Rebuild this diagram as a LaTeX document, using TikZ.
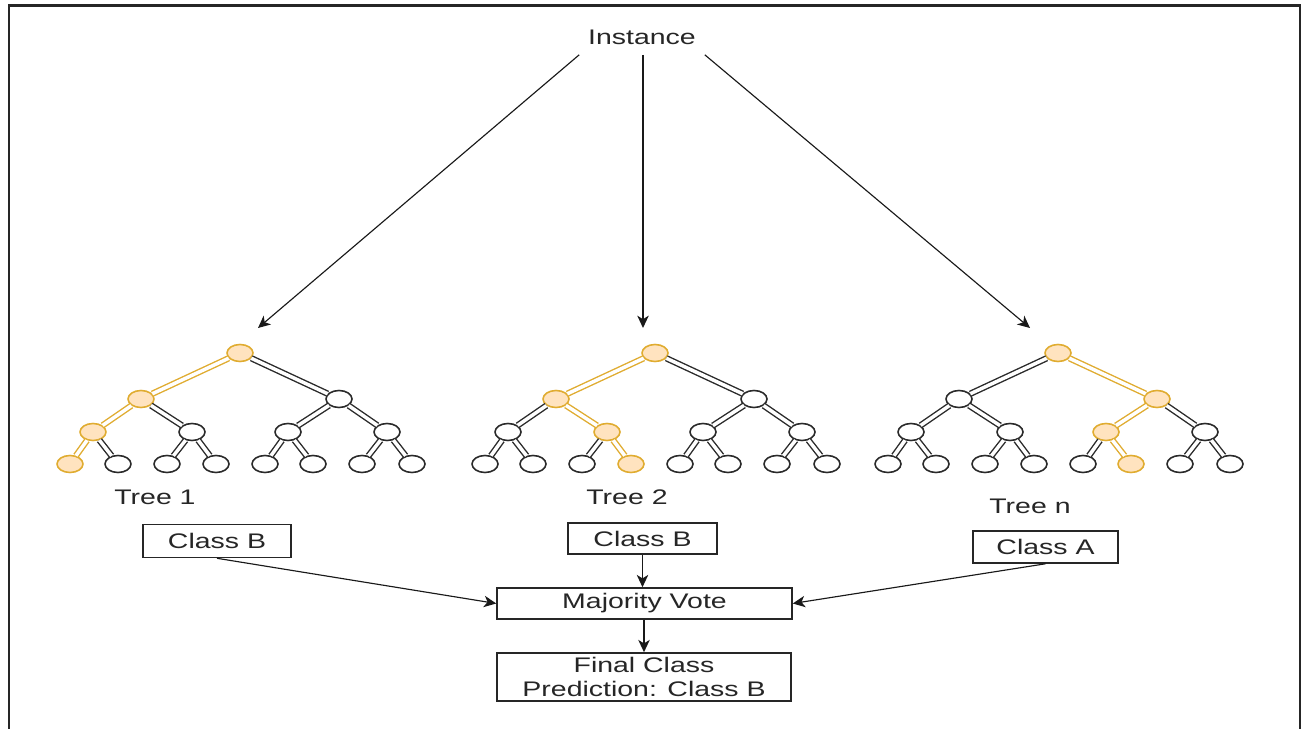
\documentclass[tikz,border=0pt]{standalone}
\usepackage{fontspec}
\setmainfont{Liberation Sans}[FakeStretch=1.35]
\usetikzlibrary{arrows.meta,shapes.geometric}
\definecolor{hlstroke}{HTML}{E0AC30}
\definecolor{hlfill}{HTML}{FFE3BF}
\definecolor{edgegray}{HTML}{2A2A2A}
\tikzset{
  plainnode/.style={ellipse,draw=edgegray,fill=white,line width=0.9pt,minimum width=0.52cm,minimum height=0.34cm,inner sep=0pt},
  hlnode/.style={plainnode,draw=hlstroke,fill=hlfill},
  plainedge/.style={draw=edgegray,double=white,double distance=2pt,line width=0.8pt},
  hledge/.style={plainedge,draw=hlstroke},
  s-r/.style={plainnode},s-a/.style={plainnode},s-b/.style={plainnode},
  s-aa/.style={plainnode},s-ab/.style={plainnode},s-ba/.style={plainnode},s-bb/.style={plainnode},
  s-aaa/.style={plainnode},s-aab/.style={plainnode},s-aba/.style={plainnode},s-abb/.style={plainnode},
  s-baa/.style={plainnode},s-bab/.style={plainnode},s-bba/.style={plainnode},s-bbb/.style={plainnode},
  e-a/.style={plainedge},e-b/.style={plainedge},
  e-aa/.style={plainedge},e-ab/.style={plainedge},e-ba/.style={plainedge},e-bb/.style={plainedge},
  e-aaa/.style={plainedge},e-aab/.style={plainedge},e-aba/.style={plainedge},e-abb/.style={plainedge},
  e-baa/.style={plainedge},e-bab/.style={plainedge},e-bba/.style={plainedge},e-bbb/.style={plainedge},
  lbl/.style={font=\fontsize{12}{13.5}\selectfont,text=black!85},
  box/.style={draw=black!85,line width=0.9pt,fill=white,inner sep=0pt,font=\fontsize{12}{13.5}\selectfont,text=black!85,align=center},
  arr/.style={draw=black!90,line width=0.65pt,-{Stealth[length=7pt,width=6.5pt,inset=2pt]}},
  varr/.style={arr,line width=1pt},
}
\newcommand\rftree[3]{%
\begin{scope}[shift={(#2,0)},#3]
  \node[s-r] (#1r) at (0,353) {};
  \node[s-a] (#1a) at (-99,399) {};
  \node[s-b] (#1b) at (99,399) {};
  \node[s-aa] (#1aa) at (-147,432) {};
  \node[s-ab] (#1ab) at (-48,432) {};
  \node[s-ba] (#1ba) at (48,432) {};
  \node[s-bb] (#1bb) at (147,432) {};
  \node[s-aaa] (#1aaa) at (-170,464) {};
  \node[s-aab] (#1aab) at (-122,464) {};
  \node[s-aba] (#1aba) at (-73,464) {};
  \node[s-abb] (#1abb) at (-24,464) {};
  \node[s-baa] (#1baa) at (25,464) {};
  \node[s-bab] (#1bab) at (73,464) {};
  \node[s-bba] (#1bba) at (122,464) {};
  \node[s-bbb] (#1bbb) at (172,464) {};
  \draw[e-a] (#1r) -- (#1a);
  \draw[e-b] (#1r) -- (#1b);
  \draw[e-aa] (#1a) -- (#1aa);
  \draw[e-ab] (#1a) -- (#1ab);
  \draw[e-ba] (#1b) -- (#1ba);
  \draw[e-bb] (#1b) -- (#1bb);
  \draw[e-aaa] (#1aa) -- (#1aaa);
  \draw[e-aab] (#1aa) -- (#1aab);
  \draw[e-aba] (#1ab) -- (#1aba);
  \draw[e-abb] (#1ab) -- (#1abb);
  \draw[e-baa] (#1ba) -- (#1baa);
  \draw[e-bab] (#1ba) -- (#1bab);
  \draw[e-bba] (#1bb) -- (#1bba);
  \draw[e-bbb] (#1bb) -- (#1bbb);
\end{scope}}
\begin{document}
\begin{tikzpicture}[x=0.02cm,y=-0.02cm]
\useasboundingbox (0,0) rectangle (1302,729);
\fill[white] (0,0) rectangle (1302,729);
\draw[line width=1.3pt,black!85] (9,740) -- (9,5.5) -- (1300,5.5) -- (1300,740);

\node[lbl,minimum width=2.5cm,minimum height=0.7cm,inner sep=0pt] (inst) at (642,37) {Instance};
\coordinate (in1) at (258,328);
\coordinate (in2) at (643,328);
\coordinate (in3) at (1030,328);
\draw[arr] (inst.south west) -- (in1);
\draw[varr] (inst.south -| in2) -- (in2);
\draw[arr] (inst.south east) -- (in3);

\rftree{ta}{240}{s-r/.style={hlnode},s-a/.style={hlnode},s-aa/.style={hlnode},s-aaa/.style={hlnode},
  e-a/.style={hledge},e-aa/.style={hledge},e-aaa/.style={hledge}}
\rftree{tb}{655}{s-r/.style={hlnode},s-a/.style={hlnode},s-ab/.style={hlnode},s-abb/.style={hlnode},
  e-a/.style={hledge},e-ab/.style={hledge},e-abb/.style={hledge}}
\rftree{tc}{1058}{s-r/.style={hlnode},s-b/.style={hlnode},s-ba/.style={hlnode},s-bab/.style={hlnode},
  e-b/.style={hledge},e-ba/.style={hledge},e-bab/.style={hledge}}

\node[lbl] (lab1) at (155,497) {Tree 1};
\node[lbl] (lab2) at (627,497) {Tree 2};
\node[lbl] (lab3) at (1030,506) {Tree n};

\node[box,minimum width=2.96cm,minimum height=0.66cm] (c1) at (217,541) {Class B};
\node[box,minimum width=2.98cm,minimum height=0.62cm] (c2) at (642.5,538.5) {Class B};
\node[box,minimum width=2.9cm,minimum height=0.64cm] (c3) at (1045.5,547) {Class A};
\node[box,minimum width=5.9cm,minimum height=0.62cm] (mv) at (644.5,603.5) {Majority Vote};
\node[box,minimum width=5.88cm,minimum height=0.96cm] (fc) at (644,677) {Final Class\\Prediction: Class B};

\draw[arr] (c1.south) -- (mv.west);
\draw[arr] (c3.south) -- (mv.east);
\draw[varr] (c2.south) -- (mv.north -| c2.south);
\draw[varr] (mv.south -| fc.north) -- (fc.north);
\end{tikzpicture}
\end{document}
